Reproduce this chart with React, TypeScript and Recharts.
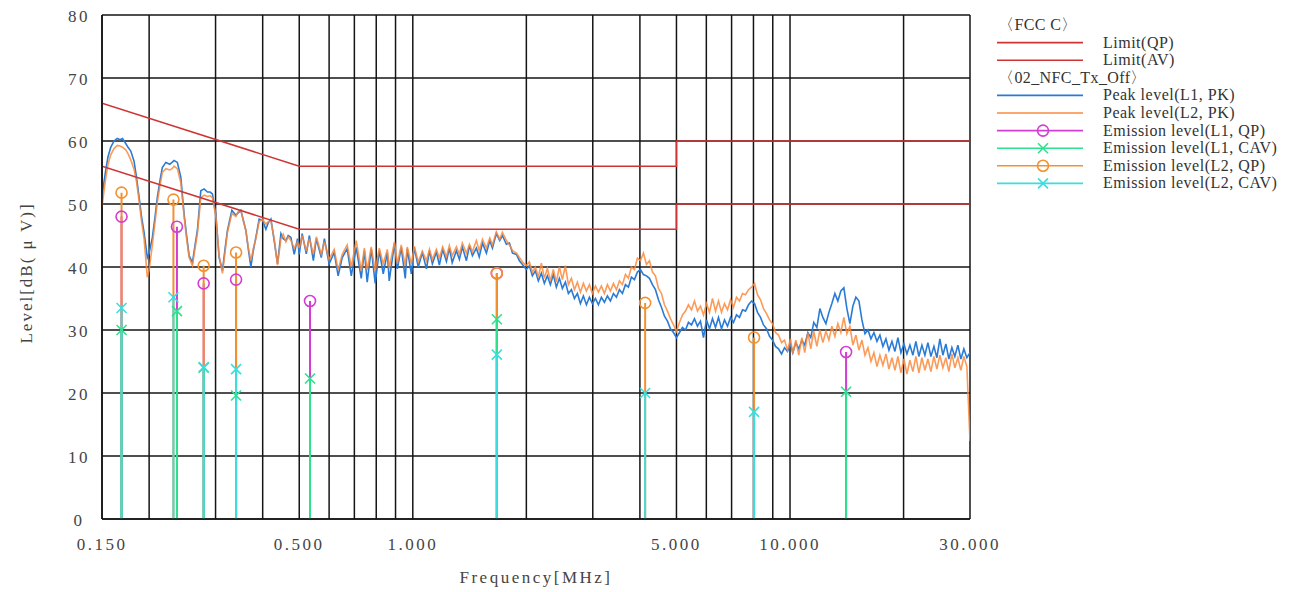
import React from 'react';
import { ComposedChart, Line, Scatter, XAxis, YAxis, CartesianGrid } from 'recharts';

// ---------- peak traces (MHz / dBµV) ----------
const peakFreqs = [
  0.150, 0.1514, 0.1534, 0.1556, 0.1582, 0.1614, 0.1647, 0.1674, 0.170, 0.1734,
  0.1758, 0.1788, 0.1824, 0.1852, 0.1881, 0.1909, 0.1939, 0.1978, 0.200, 0.2040,
  0.2074, 0.2103, 0.2138, 0.2168, 0.2214, 0.2268, 0.230, 0.2329, 0.2376, 0.2426,
  0.2476, 0.2514, 0.2553, 0.2605, 0.2648, 0.2685, 0.2742, 0.2798, 0.2855, 0.2902,
  0.2943, 0.3005, 0.3066, 0.3129, 0.3181, 0.3226, 0.3314, 0.3396, 0.3444, 0.3501,
  0.3551, 0.3610, 0.3661, 0.3722, 0.3774, 0.3837, 0.3915, 0.3995, 0.4079, 0.4137,
  0.4206, 0.4291, 0.4379, 0.4471, 0.4534, 0.4609, 0.4675, 0.4752, 0.4849, 0.4948,
  0.500, 0.509, 0.522, 0.532, 0.545, 0.555, 0.572, 0.583, 0.600, 0.619,
  0.634, 0.650, 0.670, 0.687, 0.708, 0.730, 0.744, 0.757, 0.776, 0.795,
  0.815, 0.835, 0.856, 0.866, 0.894, 0.910, 0.932, 0.955, 0.967, 0.991,
  1.009, 1.034, 1.060, 1.087, 1.107, 1.127, 1.155, 1.176, 1.200, 1.228,
  1.250, 1.272, 1.305, 1.329, 1.353, 1.387, 1.413, 1.439, 1.474, 1.500,
  1.530, 1.567, 1.600, 1.626, 1.665, 1.700, 1.728, 1.770, 1.804, 1.838,
  1.883, 1.917, 1.953, 2.000,
  2.037, 2.075, 2.113, 2.152, 2.192, 2.232, 2.274, 2.316, 2.358, 2.402,
  2.447, 2.492, 2.538, 2.585, 2.633, 2.682, 2.731, 2.782, 2.833, 2.886,
  2.939, 2.993, 3.049, 3.105, 3.162, 3.221, 3.280, 3.341, 3.403, 3.466,
  3.530, 3.595, 3.662, 3.729, 3.798, 3.869, 3.940, 4.013, 4.087, 4.163,
  4.240, 4.318, 4.398, 4.480, 4.562, 4.647, 4.733, 4.820, 4.910, 5.000,
  5.093, 5.187, 5.283, 5.380, 5.480, 5.581, 5.684, 5.789, 5.897, 6.006,
  6.117, 6.230, 6.345, 6.462, 6.582, 6.704, 6.828, 6.954, 7.082, 7.213,
  7.347, 7.483, 7.621, 7.762, 7.905, 8.052, 8.200, 8.352, 8.506, 8.664,
  8.824, 8.987, 9.153, 9.322, 9.495, 9.670, 9.849, 10.03, 10.17, 10.36,
  10.55, 10.75, 10.94, 11.15, 11.35, 11.56, 11.78, 12.00, 12.22, 12.45,
  12.68, 12.91, 13.15, 13.39, 13.64, 13.89, 14.15, 14.41, 14.68, 14.95,
  15.23, 15.51, 15.80, 16.09, 16.39, 16.69, 17.00, 17.31, 17.63, 17.96,
  18.29, 18.63, 18.97, 19.32, 19.68, 20.04, 20.41, 20.79, 21.17, 21.56,
  21.96, 22.37, 22.78, 23.20, 23.63, 24.07, 24.51, 24.96, 25.42, 25.89,
  26.37, 26.86, 27.35, 27.86, 28.37, 28.90, 29.43, 30.00,
];

const peakL1 = [
  51.0, 53.0, 55.3, 57.5, 59.0, 60.0, 60.4, 60.2, 60.4, 59.6,
  59.0, 58.4, 56.8, 54.2, 51.1, 48.0, 45.5, 41.5, 42.2, 44.7,
  48.0, 51.1, 53.8, 55.8, 56.6, 56.3, 56.6, 56.9, 56.6, 54.3,
  48.4, 45.0, 41.8, 40.7, 43.5, 45.8, 52.1, 52.4, 51.9, 51.9,
  51.6, 48.4, 41.5, 39.4, 43.0, 45.8, 49.0, 48.2, 48.6, 49.0,
  47.5, 45.8, 43.0, 40.0, 42.5, 44.7, 47.6, 47.4, 46.0, 47.0,
  47.6, 44.2, 40.5, 45.3, 44.5, 44.2, 45.0, 44.7, 42.0, 44.5,
  42.0, 45.3, 42.1, 45.0, 41.0, 44.5, 41.5, 44.5, 40.5, 42.3,
  38.6, 41.5, 42.9, 38.6, 43.1, 38.2, 42.6, 37.6, 42.9, 37.4,
  42.6, 38.9, 42.3, 37.8, 43.7, 39.7, 43.1, 38.2, 42.9, 38.9,
  43.1, 40.0, 42.3, 39.7, 42.6, 40.5, 42.4, 40.3, 42.8, 40.9,
  43.0, 40.7, 42.6, 41.2, 43.2, 41.0, 43.4, 41.8, 43.0, 41.6,
  43.8, 42.2, 44.2, 43.0, 45.3, 44.2, 45.0, 43.6, 43.8, 42.2,
  42.0, 41.0, 40.4, 39.6,
  40.2, 38.6, 39.4, 37.8, 39.0, 37.4, 38.6, 37.2, 38.8, 36.8,
  38.2, 36.6, 37.6, 35.8, 36.4, 35.0, 35.8, 34.2, 35.4, 34.0,
  35.2, 34.2, 35.0, 34.0, 35.2, 34.4, 35.4, 34.6, 35.8, 35.2,
  36.4, 35.8, 37.2, 36.8, 38.4, 38.0, 39.2, 39.6, 38.8, 38.6,
  38.2, 37.2, 36.4, 34.8, 33.6, 32.2, 31.4, 30.2, 29.6, 28.8,
  29.6, 30.4, 30.0, 31.2, 30.8, 31.8, 30.6, 31.4, 28.8, 31.6,
  30.2, 31.8, 30.4, 32.0, 30.2, 31.6, 30.6, 32.0, 31.2, 32.4,
  32.0, 33.2, 33.0, 34.0, 34.6, 34.2, 32.8, 32.0, 30.8, 30.2,
  29.0, 28.4, 27.4, 27.0, 26.2, 27.2, 26.6, 27.8, 26.4, 28.0,
  27.0, 28.4, 27.6, 29.6, 28.8, 31.2, 30.4, 33.4, 32.0, 31.0,
  32.8, 34.2, 35.8, 34.6, 36.2, 36.7, 33.4, 31.0, 33.8, 35.2,
  34.6, 31.6, 29.4, 30.0, 28.6, 29.6, 28.2, 29.2, 27.4, 28.6,
  26.8, 28.2, 26.6, 28.8, 26.4, 27.8, 26.2, 27.6, 26.0, 28.2,
  25.8, 27.6, 26.0, 28.0, 25.8, 27.4, 25.6, 28.6, 26.0, 27.8,
  25.4, 27.2, 25.8, 27.6, 25.4, 27.0, 25.6, 26.4,
];

const peakL2 = [
  49.5, 51.5, 54.0, 56.3, 57.8, 58.8, 59.3, 59.2, 59.0, 58.6,
  58.0, 57.0, 55.5, 53.5, 50.5, 47.3, 44.5, 38.4, 39.5, 43.5,
  47.2, 50.3, 53.0, 55.0, 55.6, 55.4, 55.6, 56.0, 55.6, 53.4,
  48.0, 44.5, 41.5, 40.2, 43.0, 45.3, 51.0, 51.4, 51.2, 51.3,
  51.0, 48.0, 41.8, 39.0, 42.5, 45.5, 48.5, 48.0, 48.8, 49.0,
  47.5, 45.8, 43.2, 41.0, 42.8, 44.5, 47.2, 47.6, 46.8, 47.2,
  47.3, 44.5, 40.3, 44.5, 45.2, 44.0, 44.8, 44.2, 43.0, 44.0,
  43.0, 45.0, 42.5, 44.5, 42.0, 44.8, 42.0, 44.0, 41.2, 42.8,
  39.5, 42.0, 43.5, 40.0, 44.2, 39.4, 43.0, 39.5, 43.2, 39.4,
  43.0, 40.5, 42.8, 39.8, 44.0, 40.5, 43.5, 40.2, 43.2, 40.5,
  43.3, 40.8, 42.5, 41.0, 42.8, 41.2, 42.8, 41.4, 43.2, 41.6,
  43.4, 41.8, 43.2, 42.0, 43.8, 42.2, 43.6, 42.4, 44.2, 42.6,
  44.4, 43.0, 44.6, 43.5, 45.6, 44.4, 45.5, 44.2, 43.5, 42.6,
  42.2, 41.5, 40.8, 40.2,
  40.8, 39.2, 40.0, 38.4, 40.6, 38.2, 39.8, 37.8, 39.6, 37.6,
  40.0, 38.0, 40.2, 37.2, 38.2, 36.4, 37.6, 36.0, 37.4, 36.2,
  37.2, 35.8, 37.0, 36.0, 37.0, 35.8, 37.2, 36.2, 37.4, 36.4,
  37.8, 37.2, 38.8, 38.2, 40.0, 39.6, 41.4, 41.0, 42.2, 40.4,
  41.0, 39.2, 38.6, 36.6, 35.8, 34.0, 33.0, 31.8, 30.8, 29.8,
  31.2, 32.4, 33.0, 34.0, 33.2, 34.6, 33.0, 33.8, 32.4, 34.2,
  32.8, 35.0, 33.0, 34.6, 32.8, 34.2, 33.2, 34.8, 33.6, 35.2,
  34.6, 35.8, 35.6, 36.4, 36.8, 37.4, 35.6, 34.8, 33.4, 32.6,
  31.6, 31.0, 29.6, 29.2, 28.0, 28.4, 26.8, 28.6, 26.2, 28.4,
  26.0, 28.8, 26.4, 29.6, 27.0, 29.8, 27.4, 30.0, 28.0, 29.8,
  28.4, 30.6, 29.0, 31.0, 29.6, 32.0, 29.4, 30.6, 27.6, 29.2,
  26.8, 28.4, 26.0, 27.2, 25.0, 26.4, 24.2, 26.0, 24.4, 26.2,
  23.8, 25.6, 23.6, 25.8, 23.2, 25.4, 23.0, 25.2, 23.4, 25.8,
  23.2, 25.6, 23.6, 25.4, 23.4, 25.8, 23.8, 26.0, 24.0, 25.6,
  23.4, 26.2, 24.0, 25.6, 23.6, 25.8, 24.2, 12.4,
];

// ---------- FCC class C limits ----------
const limitFreqs = [0.15, 0.5, 5, 5, 30];
const limitQP = [66, 56, 56, 60, 60];
const limitAV = [56, 46, 46, 50, 50];

// ---------- emission (final measurement) points ----------
const l1QpFreqs = [0.169, 0.237, 0.279, 0.340, 0.534, 1.67, 14.08];
const l1QpValues = [48.0, 46.4, 37.4, 38.0, 34.6, 39.0, 26.5];
const l1CavFreqs = [0.169, 0.237, 0.279, 0.340, 0.534, 1.67, 14.08];
const l1CavValues = [30.0, 33.0, 24.0, 19.6, 22.3, 31.7, 20.2];
const l2QpFreqs = [0.169, 0.232, 0.279, 0.340, 1.67, 4.13, 8.03];
const l2QpValues = [51.8, 50.7, 40.2, 42.3, 39.0, 34.3, 28.8];
const l2CavFreqs = [0.169, 0.232, 0.279, 0.340, 1.67, 4.13, 8.03];
const l2CavValues = [33.5, 35.2, 24.1, 23.8, 26.1, 20.0, 17.0];

// ---------- axes ----------
const xGridTicks = [0.15, 0.2, 0.3, 0.4, 0.5, 0.6, 0.7, 0.8, 0.9, 1, 2, 3, 4, 5, 6, 7, 8, 9, 10, 20, 30];
const xLabelTicks = [0.15, 0.5, 1, 5, 10, 30];
const yTicks = [0, 10, 20, 30, 40, 50, 60, 70, 80];
const yMinorTicks = [2, 4, 6, 8, 12, 14, 16, 18, 22, 24, 26, 28, 32, 34, 36, 38, 42, 44, 46, 48, 52, 54, 56, 58, 62, 64, 66, 68, 72, 74, 76, 78];

const legendHeader1 = '〈FCC C〉';
const legendHeader2 = '〈02_NFC_Tx_Off〉';
const legendLabels = [
  'Limit(QP)', 'Limit(AV)', 'Peak level(L1, PK)', 'Peak level(L2, PK)',
  'Emission level(L1, QP)', 'Emission level(L1, CAV)', 'Emission level(L2, QP)', 'Emission level(L2, CAV)',
];

const COL = {
  limit: '#cf3434',
  pk1: '#2a7bd6',
  pk2: '#fb8a3c',
  qp1: '#d23ed2',
  cav1: '#2fe08e',
  qp2: '#f39130',
  cav2: '#3adede',
  grid: '#151515',
  text: '#444444',
};
const SERIF = '"Liberation Serif", "DejaVu Serif", serif';
const serifStyle = { fontFamily: SERIF };

const toPts = (fs: number[], vs: number[]) => fs.map((f, i) => ({ f, v: vs[i] }));
const toStems = (fs: number[], vs: number[]) =>
  fs.flatMap((f, i) => [{ f, v: 0 }, { f, v: vs[i] }, { f, v: null as number | null }]);

const circleShape = (color: string) => (p: any) =>
  p.cx == null ? <g /> : <circle cx={p.cx} cy={p.cy} r={5.5} fill="none" stroke={color} strokeWidth={1.6} />;
const crossShape = (color: string) => (p: any) =>
  p.cx == null ? <g /> : (
    <g stroke={color} strokeWidth={1.6}>
      <line x1={p.cx - 5} y1={p.cy - 5} x2={p.cx + 5} y2={p.cy + 5} />
      <line x1={p.cx - 5} y1={p.cy + 5} x2={p.cx + 5} y2={p.cy - 5} />
    </g>
  );

const XTick = (p: any) => {
  const v = p.payload?.value;
  if (!xLabelTicks.includes(v)) return <g />;
  return (
    <text x={p.x} y={p.y} dy={23} textAnchor="middle" style={serifStyle} fontSize={17} fill={COL.text} letterSpacing={2.5}>
      {Number(v).toFixed(3)}
    </text>
  );
};
const YTick = (p: any) => (
  <text x={p.x - 15} y={p.y} dy={7} textAnchor="middle" style={serifStyle} fontSize={17} fill={COL.text} letterSpacing={2.5}>
    {p.payload?.value}
  </text>
);
const YLabel = (p: any) => {
  const vb = p.viewBox || { x: 0, y: 15, width: 102, height: 504 };
  const cx = vb.x + 26;
  const cy = vb.y + vb.height / 2 + 6;
  return (
    <text x={cx} y={cy} transform={`rotate(-90 ${cx} ${cy})`} textAnchor="middle" dominantBaseline="central"
      style={serifStyle} fontSize={17} fill={COL.text} letterSpacing={2}>
      Level[dB( μ V)]
    </text>
  );
};
const XLabel = (p: any) => {
  const vb = p.viewBox || { x: 102, y: 519, width: 868, height: 70 };
  return (
    <text x={vb.x + vb.width / 2} y={vb.y + 64} textAnchor="middle" style={serifStyle} fontSize={17}
      fill={COL.text} letterSpacing={2.5}>
      Frequency[MHz]
    </text>
  );
};

const Legend = () => {
  const rowY = (i: number) => 25 + i * 17.6;
  const items = [
    { label: legendLabels[0], color: COL.limit, mark: 'none', row: 1 },
    { label: legendLabels[1], color: COL.limit, mark: 'none', row: 2 },
    { label: legendLabels[2], color: COL.pk1, mark: 'none', row: 4 },
    { label: legendLabels[3], color: COL.pk2, mark: 'none', row: 5 },
    { label: legendLabels[4], color: COL.qp1, mark: 'circle', row: 6 },
    { label: legendLabels[5], color: COL.cav1, mark: 'cross', row: 7 },
    { label: legendLabels[6], color: COL.qp2, mark: 'circle', row: 8 },
    { label: legendLabels[7], color: COL.cav2, mark: 'cross', row: 9 },
  ];
  const mx = 1043;
  return (
    <svg width={1292} height={592} style={{ position: 'absolute', left: 0, top: 0, pointerEvents: 'none', fontFamily: SERIF }}>
      <text x={998} y={rowY(0) + 5} style={serifStyle} fontSize={16} fill="#333" letterSpacing={0.4}>{legendHeader1}</text>
      <text x={998} y={rowY(3) + 5} style={serifStyle} fontSize={16} fill="#333" letterSpacing={0.4}>{legendHeader2}</text>
      {items.map((it) => {
        const y = rowY(it.row);
        return (
          <g key={it.label}>
            <line x1={997} x2={1083} y1={y} y2={y} stroke={it.color} strokeWidth={1.6} />
            {it.mark === 'circle' && <circle cx={mx} cy={y} r={5.5} fill="none" stroke={it.color} strokeWidth={1.6} />}
            {it.mark === 'cross' && (
              <g stroke={it.color} strokeWidth={1.6}>
                <line x1={mx - 5} y1={y - 5} x2={mx + 5} y2={y + 5} />
                <line x1={mx - 5} y1={y + 5} x2={mx + 5} y2={y - 5} />
              </g>
            )}
            <text x={1103} y={y + 5} style={serifStyle} fontSize={16} fill="#333" letterSpacing={0.5}>{it.label}</text>
          </g>
        );
      })}
    </svg>
  );
};

export default function App() {
  const pk1 = toPts(peakFreqs, peakL1);
  const pk2 = toPts(peakFreqs, peakL2);
  const qp = toPts(limitFreqs, limitQP);
  const av = toPts(limitFreqs, limitAV);
  const axisStroke = { stroke: COL.grid, strokeWidth: 1.6 };
  return (
    <div style={{ position: 'relative', width: 1292, height: 592, background: '#fff', fontFamily: SERIF }}>
      <style>{'body{margin:0;background:#fff;}'}</style>
      <ComposedChart width={1292} height={592} margin={{ top: 15, right: 322, bottom: 3, left: 0 }} style={serifStyle}>
        <CartesianGrid stroke={COL.grid} strokeWidth={1.5} />
        <XAxis
          dataKey="f" type="number" scale="log" domain={[0.15, 30]} allowDataOverflow
          ticks={xGridTicks} interval={0} tickLine={false} axisLine={axisStroke}
          tick={XTick} height={70} label={<XLabel />}
        />
        <YAxis
          type="number" domain={[0, 80]} allowDataOverflow ticks={yTicks} interval={0} width={102}
          tickLine={false} axisLine={axisStroke} tick={YTick} label={<YLabel />}
        />
        <YAxis
          yAxisId="minor" type="number" domain={[0, 80]} allowDataOverflow ticks={yMinorTicks} interval={0}
          mirror tick={false} tickSize={8} tickLine={{ stroke: COL.grid, strokeWidth: 1.4 }} axisLine={false}
        />
        <Line data={pk1} dataKey="v" stroke={COL.pk1} strokeWidth={1.6} dot={false} activeDot={false} isAnimationActive={false} />
        <Line data={pk2} dataKey="v" stroke={COL.pk2} strokeWidth={1.6} strokeOpacity={0.85} dot={false} activeDot={false} isAnimationActive={false} />
        <Line data={qp} dataKey="v" stroke={COL.limit} strokeWidth={1.5} dot={false} activeDot={false} isAnimationActive={false} />
        <Line data={av} dataKey="v" stroke={COL.limit} strokeWidth={1.5} dot={false} activeDot={false} isAnimationActive={false} />
        <Line data={toStems(l1QpFreqs, l1QpValues)} dataKey="v" stroke={COL.qp1} strokeWidth={2} dot={false} activeDot={false} isAnimationActive={false} />
        <Line data={toStems(l2QpFreqs, l2QpValues)} dataKey="v" stroke={COL.qp2} strokeWidth={2} dot={false} activeDot={false} isAnimationActive={false} />
        <Line data={toStems(l1CavFreqs, l1CavValues)} dataKey="v" stroke={COL.cav1} strokeWidth={2} dot={false} activeDot={false} isAnimationActive={false} />
        <Line data={toStems(l2CavFreqs, l2CavValues)} dataKey="v" stroke={COL.cav2} strokeWidth={2} dot={false} activeDot={false} isAnimationActive={false} />
        <Scatter data={toPts(l1QpFreqs, l1QpValues)} dataKey="v" shape={circleShape(COL.qp1)} isAnimationActive={false} />
        <Scatter data={toPts(l2QpFreqs, l2QpValues)} dataKey="v" shape={circleShape(COL.qp2)} isAnimationActive={false} />
        <Scatter data={toPts(l1CavFreqs, l1CavValues)} dataKey="v" shape={crossShape(COL.cav1)} isAnimationActive={false} />
        <Scatter data={toPts(l2CavFreqs, l2CavValues)} dataKey="v" shape={crossShape(COL.cav2)} isAnimationActive={false} />
      </ComposedChart>
      <Legend />
    </div>
  );
}
